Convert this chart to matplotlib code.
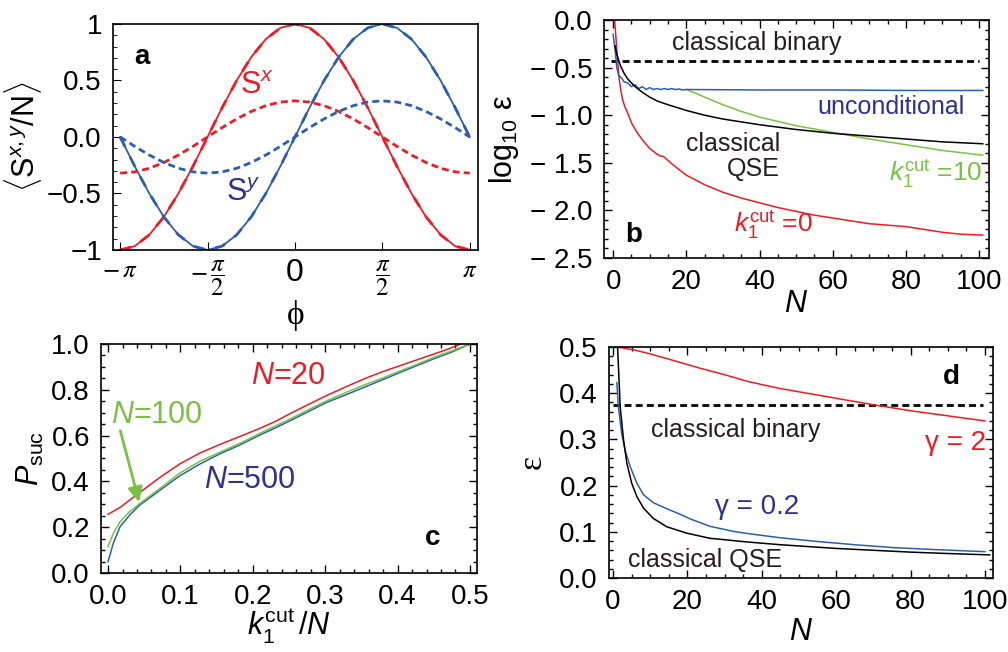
import numpy as np
import matplotlib
matplotlib.use("Agg")
import matplotlib.pyplot as plt
from matplotlib.ticker import MultipleLocator

plt.rcParams['font.family'] = ['Liberation Sans', 'DejaVu Sans']
plt.rcParams['mathtext.fontset'] = 'custom'
plt.rcParams['mathtext.rm'] = 'Liberation Sans'
plt.rcParams['mathtext.it'] = 'Liberation Sans:italic'
plt.rcParams['mathtext.bf'] = 'Liberation Sans:bold'
plt.rcParams['axes.linewidth'] = 1.2

RED = '#ed1c24'
BLUE = '#2a5fb0'
DBLUE = '#2e3192'
GREEN = '#7ac143'
SERIF = ['Liberation Serif', 'DejaVu Serif']

# ---- panel a: spin components vs phi (read every 15 deg)
phi = np.linspace(-np.pi, np.pi, 25)
sx_full = [-1, -0.966, -0.866, -0.707, -0.5, -0.259, 0, 0.259, 0.5, 0.707, 0.866, 0.966, 1,
           0.966, 0.866, 0.707, 0.5, 0.259, 0, -0.259, -0.5, -0.707, -0.866, -0.966, -1]
sy_full = [0, -0.259, -0.5, -0.707, -0.866, -0.966, -1, -0.966, -0.866, -0.707, -0.5, -0.259, 0,
           0.259, 0.5, 0.707, 0.866, 0.966, 1, 0.966, 0.866, 0.707, 0.5, 0.259, 0]
sx_dot = [-0.32, -0.309, -0.277, -0.226, -0.16, -0.083, 0, 0.083, 0.16, 0.226, 0.277, 0.309, 0.32,
          0.309, 0.277, 0.226, 0.16, 0.083, 0, -0.083, -0.16, -0.226, -0.277, -0.309, -0.32]
sy_dot = [0, -0.083, -0.16, -0.226, -0.277, -0.309, -0.32, -0.309, -0.277, -0.226, -0.16, -0.083, 0,
          0.083, 0.16, 0.226, 0.277, 0.309, 0.32, 0.309, 0.277, 0.226, 0.16, 0.083, 0]

# ---- panel b: log10 error vs N
N_b_qse = [0.5, 1, 2, 3, 4, 5, 6, 8, 10, 12, 15, 20, 25, 30, 40, 50, 60, 70, 80, 90, 101]
qse_b = [-0.27, -0.36, -0.48, -0.56, -0.62, -0.66, -0.70, -0.76, -0.81, -0.85, -0.89, -0.95,
         -1.0, -1.04, -1.10, -1.15, -1.19, -1.22, -1.25, -1.28, -1.30]
N_b_k0 = [0.4, 0.8, 1.2, 1.6, 2.0, 2.6, 3.2, 4.0, 5.0, 6.5, 8.0, 10.0, 12.0, 13.0, 13.8, 14.8, 16.0,
          18.0, 20, 25, 30, 35, 40, 45, 50, 55, 60, 65, 70, 75, 80, 85, 90, 95, 101]
k0_b = [0.0, -0.2, -0.42, -0.6, -0.72, -0.84, -0.91, -0.98, -1.08, -1.18, -1.26, -1.35, -1.41, -1.43,
        -1.435, -1.47, -1.51, -1.57, -1.63, -1.73, -1.81, -1.87, -1.92, -1.97, -2.01, -2.05, -2.08,
        -2.11, -2.14, -2.155, -2.17, -2.20, -2.23, -2.25, -2.26]
N_b_unc = [0.0, 0.5, 1.0, 1.5, 2.0, 2.5, 3, 4, 5, 6, 7, 8, 9, 10, 11, 12, 13, 14, 15, 16, 17, 18,
           19, 20, 40, 60, 80, 101]
unc_b = [-0.15, -0.30, -0.50, -0.58, -0.60, -0.62, -0.65, -0.66, -0.70, -0.68, -0.72, -0.70, -0.73,
         -0.71, -0.73, -0.72, -0.73, -0.72, -0.73, -0.72, -0.73, -0.725, -0.735, -0.73, -0.735,
         -0.735, -0.74, -0.74]
N_b_k10 = [20, 22, 25, 30, 35, 40, 50, 60, 70, 80, 90, 101]
k10_b = [-0.73, -0.76, -0.81, -0.89, -0.96, -1.02, -1.11, -1.18, -1.25, -1.31, -1.37, -1.42]
binary_b = -0.426

# ---- panel c: success probability vs k1cut/N
x_c20 = [0, 0.017, 0.044, 0.072, 0.099, 0.127, 0.155, 0.182, 0.21, 0.23, 0.251, 0.275, 0.302,
         0.33, 0.357, 0.38, 0.403, 0.426, 0.449, 0.47, 0.487]
p_c20 = [0.256, 0.287, 0.352, 0.418, 0.476, 0.524, 0.562, 0.596, 0.632, 0.66, 0.695, 0.733, 0.775,
         0.815, 0.852, 0.88, 0.905, 0.93, 0.955, 0.978, 1.0]
x_c100 = [0, 0.0073, 0.0166, 0.030, 0.044, 0.072, 0.099, 0.127, 0.155, 0.182, 0.21, 0.23, 0.251,
          0.275, 0.302, 0.33, 0.357, 0.38, 0.403, 0.426, 0.449, 0.475, 0.5]
p_c100 = [0.115, 0.173, 0.224, 0.268, 0.304, 0.37, 0.436, 0.488, 0.528, 0.566, 0.61, 0.64, 0.672,
          0.71, 0.752, 0.79, 0.825, 0.852, 0.882, 0.91, 0.94, 0.97, 1.0]
x_c500 = [0, 0.0073, 0.0166, 0.030, 0.044, 0.072, 0.099, 0.127, 0.155, 0.182, 0.21, 0.23, 0.251,
          0.275, 0.302, 0.33, 0.357, 0.38, 0.403, 0.426, 0.449, 0.475, 0.5]
p_c500 = [0.049, 0.13, 0.202, 0.253, 0.297, 0.362, 0.424, 0.476, 0.521, 0.559, 0.603, 0.632, 0.664,
          0.702, 0.745, 0.78, 0.815, 0.845, 0.875, 0.905, 0.934, 0.965, 1.0]

# ---- panel d: error vs N
N_d_qse = [1.0, 1.2, 1.9, 2.8, 3.7, 5.0, 6.4, 8.2, 10.8, 14.4, 19.8, 26, 36, 45, 60, 70, 80, 90, 101.3]
qse_d = [0.56, 0.5, 0.371, 0.299, 0.248, 0.205, 0.176, 0.151, 0.129, 0.111, 0.097, 0.086, 0.078,
         0.072, 0.064, 0.06, 0.056, 0.053, 0.05]
N_d_g02 = [1.0, 1.4, 2.3, 3.2, 4.6, 6.4, 8.2, 10.8, 14.4, 18, 20.7, 26, 32.3, 36.4, 45, 55, 65, 75,
           85, 100]
g02_d = [0.423, 0.371, 0.313, 0.277, 0.241, 0.205, 0.18, 0.163, 0.15, 0.138, 0.128, 0.112, 0.101,
         0.096, 0.087, 0.079, 0.072, 0.066, 0.062, 0.057]
N_d_g2 = [1, 5.5, 10, 14.4, 20, 23.4, 30, 36.4, 45, 55, 60, 70, 80, 90, 100]
g2_d = [0.5, 0.494, 0.485, 0.475, 0.462, 0.454, 0.44, 0.425, 0.41, 0.396, 0.389, 0.375, 0.362,
        0.351, 0.34]
binary_d = 0.375


def frame(ax, lw=1.0):
    ax.tick_params(which='both', direction='in', top=True, right=True, labelsize=20, pad=8)
    ax.tick_params(which='major', length=6, width=lw)
    ax.tick_params(which='minor', length=3, width=lw)


fig = plt.figure(figsize=(10.08, 6.52), dpi=100)

# ---------------- a
ax = fig.add_axes([0.1121, 0.6166, 0.3621, 0.3466])
ax.plot(phi, sx_full, color=RED, lw=1.3)
ax.plot(phi, sx_full, color=RED, lw=2.0, ls=(0, (4, 4)))
ax.plot(phi, sy_full, color=BLUE, lw=1.3)
ax.plot(phi, sy_full, color=BLUE, lw=2.0, ls=(0, (4, 4)))
ax.plot(phi, sx_dot, color=RED, lw=2.0, ls=(0, (2.5, 1.5)))
ax.plot(phi, sy_dot, color=BLUE, lw=2.0, ls=(0, (2.5, 1.5)))
ax.set_xlim(-3.27, 3.29)
ax.set_ylim(-1, 1)
ax.tick_params(which='both', direction='in', top=False, right=False, labelsize=20, pad=8)
ax.tick_params(which='major', length=6)
ax.tick_params(which='minor', length=3)
ax.set_yticks([1, 0.5, 0, -0.5, -1])
ax.set_yticklabels(['1', '0.5', '0.0', '\u22120.5', '\u22121'])
ax.yaxis.set_minor_locator(MultipleLocator(0.1))
ax.set_xticks([-np.pi, -np.pi / 2, 0, np.pi / 2, np.pi])
ax.set_xticklabels([r'$-\,\pi$', r'$-\,\dfrac{\pi}{2}$', '0', r'$\dfrac{\pi}{2}$', r'$\pi$'])
for i, t in enumerate(ax.get_xticklabels()):
    if i == 2:
        t.set_fontsize(23)
    else:
        t.set_fontsize(18)
        t.set_math_fontfamily('stix')
ax.tick_params(axis='x', pad=6)
ax.set_xlabel('\u03d5', fontsize=24, family=SERIF)
ax.xaxis.set_label_coords(0.5, -0.22)
ax.set_ylabel(r'$\langle \mathregular{S}^{x,y}\mathregular{/N}\rangle$', fontsize=22)
ax.yaxis.set_label_coords(-0.19, 0.5)
ax.text(-2.75, 0.71, 'a', fontsize=20, fontweight='bold', ha='center', va='center')
ax.text(-0.69, 0.45, r'$\mathregular{S}^{x}$', fontsize=22, color=RED, ha='center', va='center')
ax.text(-0.93, -0.5, r'$\mathregular{S}^{y}$', fontsize=22, color=DBLUE, ha='center', va='center')

# ---------------- b
ax = fig.add_axes([0.5992, 0.6043, 0.3819, 0.3650])
ax.axhline(binary_b, xmin=0.019, xmax=0.975, color='black', lw=2, ls=(0, (2.5, 1.5)))
ax.plot(N_b_k0, k0_b, color=RED, lw=1.1)
ax.plot(N_b_k10, k10_b, color=GREEN, lw=1.1)
ax.plot(N_b_unc, unc_b, color=BLUE, lw=1.1)
ax.plot(N_b_qse, qse_b, color='black', lw=1.1)
ax.set_xlim(-2.5, 102.7)
ax.set_ylim(-2.5, 0)
frame(ax)
ax.set_xticks([0, 20, 40, 60, 80, 100])
ax.xaxis.set_minor_locator(MultipleLocator(5))
ax.set_yticks([0, -0.5, -1.0, -1.5, -2.0, -2.5])
ax.set_yticklabels(['0.0', '\u2212 0.5', '\u2212 1.0', '\u2212 1.5', '\u2212 2.0', '\u2212 2.5'])
ax.yaxis.set_minor_locator(MultipleLocator(0.1))
ax.set_xlabel(r'$N$', fontsize=22)
ax.xaxis.set_label_coords(0.5, -0.13)
ax.set_ylabel('log$_{10}$ \u03b5', fontsize=22)
ax.yaxis.set_label_coords(-0.215, 0.5)
ax.text(39.3, -0.245, 'classical binary', fontsize=18, ha='center', va='center', color='#231f20')
ax.text(76, -0.91, 'unconditional', fontsize=18, ha='center', va='center', color=DBLUE)
ax.text(45.6, -1.43, 'classical\nQSE', fontsize=18, ha='right', va='center',
        multialignment='right', color='#231f20', linespacing=1.05)
ax.text(101, -1.61, r'$k_1^{\mathregular{cut}}$ =10', fontsize=19, ha='right', va='center', color=GREEN)
ax.text(43.9, -2.15, r'$k_1^{\mathregular{cut}}$ =0', fontsize=19, ha='center', va='center', color=RED)
ax.text(5.6, -2.26, 'b', fontsize=20, fontweight='bold', ha='center', va='center')

# ---------------- c
ax = fig.add_axes([0.1002, 0.1212, 0.3730, 0.3512])
ax.plot(x_c20, p_c20, color=RED, lw=1.1)
ax.plot(x_c500, p_c500, color=BLUE, lw=1.1)
ax.plot(x_c100, p_c100, color=GREEN, lw=1.1)
ax.set_xlim(-0.0097, 0.5097)
ax.set_ylim(0, 1)
frame(ax)
ax.set_xticks([0, 0.1, 0.2, 0.3, 0.4, 0.5])
ax.set_xticklabels(['0.0', '0.1', '0.2', '0.3', '0.4', '0.5'])
ax.xaxis.set_minor_locator(MultipleLocator(0.02))
ax.set_yticks([0, 0.2, 0.4, 0.6, 0.8, 1.0])
ax.set_yticklabels(['0.0', '0.2', '0.4', '0.6', '0.8', '1.0'])
ax.yaxis.set_minor_locator(MultipleLocator(0.05))
ax.set_xlabel(r'$k_1^{\mathregular{cut}}\,\mathregular{/}N$', fontsize=22)
ax.xaxis.set_label_coords(0.5, -0.15)
ax.set_ylabel(r'$P_{\mathregular{suc}}$', fontsize=22)
ax.yaxis.set_label_coords(-0.145, 0.5)
ax.annotate('', xy=(0.044, 0.298), xytext=(0.016, 0.633),
            arrowprops=dict(arrowstyle='-|>', color=GREEN, lw=2, mutation_scale=22))
ax.text(0.067, 0.69, r'$N$=100', fontsize=22, ha='center', va='center', color=GREEN)
ax.text(0.249, 0.859, r'$N$=20', fontsize=22, ha='center', va='center', color=RED)
ax.text(0.196, 0.408, r'$N$=500', fontsize=22, ha='center', va='center', color=DBLUE)
ax.text(0.449, 0.153, 'c', fontsize=20, fontweight='bold', ha='center', va='center')

# ---------------- d
ax = fig.add_axes([0.6042, 0.1135, 0.3810, 0.3543])
ax.axhline(binary_d, xmin=0.01, xmax=0.975, color='black', lw=2, ls=(0, (2.5, 1.5)))
ax.plot(N_d_g2, g2_d, color=RED, lw=1.1)
ax.plot(N_d_g02, g02_d, color=BLUE, lw=1.1)
ax.plot(N_d_qse, qse_d, color='black', lw=1.1)
ax.set_xlim(-1.1, 102.2)
ax.set_ylim(0, 0.5)
frame(ax)
ax.set_xticks([0, 20, 40, 60, 80, 100])
ax.xaxis.set_minor_locator(MultipleLocator(5))
ax.set_yticks([0, 0.1, 0.2, 0.3, 0.4, 0.5])
ax.set_yticklabels(['0.0', '0.1', '0.2', '0.3', '0.4', '0.5'])
ax.yaxis.set_minor_locator(MultipleLocator(0.02))
ax.set_xlabel(r'$N$', fontsize=22)
ax.xaxis.set_label_coords(0.5, -0.17)
ax.set_ylabel('\u03b5', fontsize=24, family=SERIF)
ax.yaxis.set_label_coords(-0.16, 0.5)
ax.text(32.9, 0.32, 'classical binary', fontsize=18, ha='center', va='center', color='#231f20')
ax.text(92, 0.292, '\u03b3 = 2', fontsize=20, ha='center', va='center', color=RED)
ax.text(38.6, 0.154, '\u03b3 = 0.2', fontsize=20, ha='center', va='center', color=DBLUE)
ax.text(24.8, 0.039, 'classical QSE', fontsize=18, ha='center', va='center', color='#231f20')
ax.text(91, 0.436, 'd', fontsize=20, fontweight='bold', ha='center', va='center')

fig.savefig('out.png', dpi=100)
